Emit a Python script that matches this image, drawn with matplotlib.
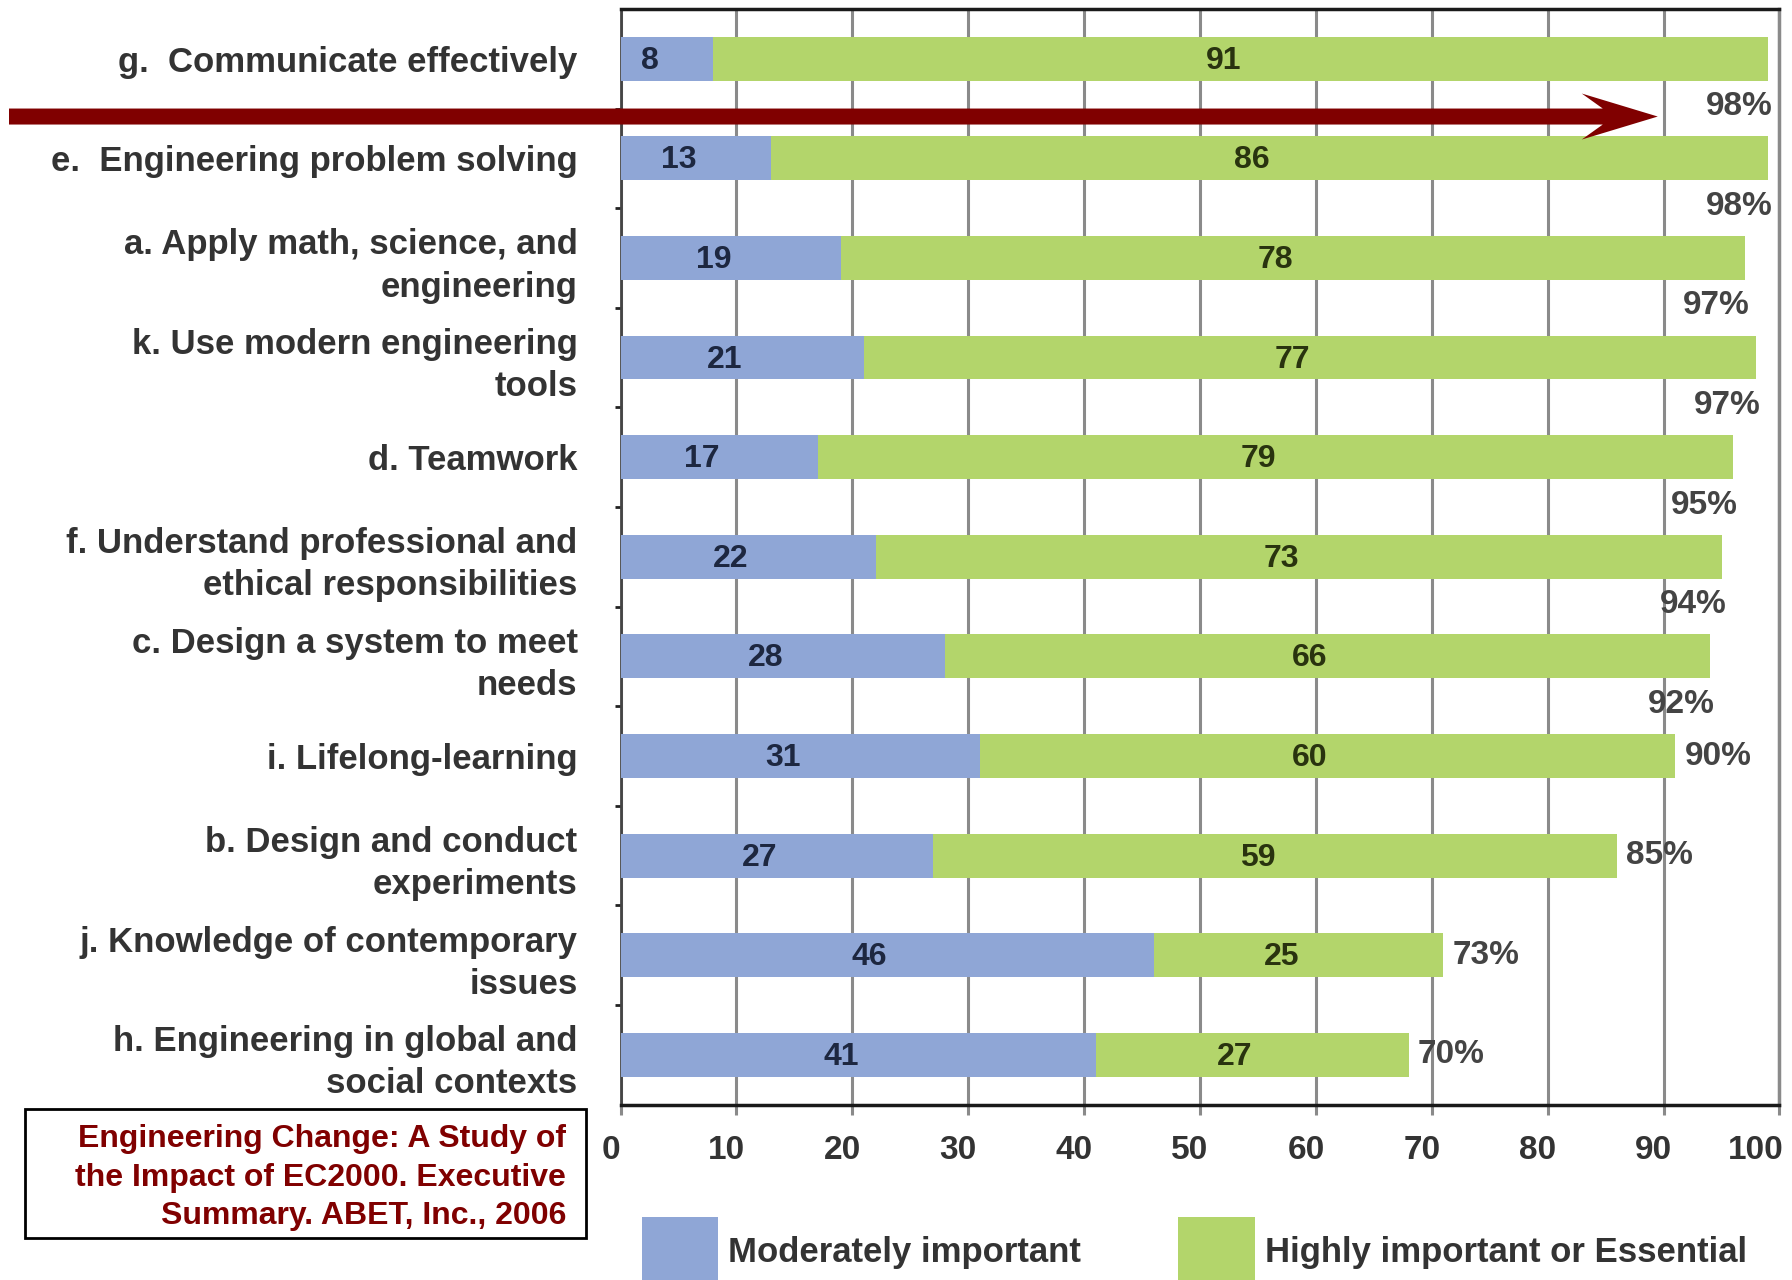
import numpy as np
import matplotlib
matplotlib.use('Agg')
import matplotlib.pyplot as plt
import matplotlib.transforms as mtransforms
from matplotlib.patches import Polygon, Rectangle, Patch

# outcomes, top to bottom
categories = [
    'g.  Communicate effectively',
    'e.  Engineering problem solving',
    'a. Apply math, science, and\nengineering',
    'k. Use modern engineering\ntools',
    'd. Teamwork',
    'f. Understand professional and\nethical responsibilities',
    'c. Design a system to meet\nneeds',
    'i. Lifelong-learning',
    'b. Design and conduct\nexperiments',
    'j. Knowledge of contemporary\nissues',
    'h. Engineering in global and\nsocial contexts',
]
moderately = [8, 13, 19, 21, 17, 22, 28, 31, 27, 46, 41]
highly = [91, 86, 78, 77, 79, 73, 66, 60, 59, 25, 27]
pct_labels = ['98%', '98%', '97%', '97%', '95%', '94%', '92%', '90%', '85%', '73%', '70%']
x_ticks = [0, 10, 20, 30, 40, 50, 60, 70, 80, 90, 100]
legend_labels = ['Moderately important', 'Highly important or Essential']
source_text = ('Engineering Change: A Study of\n'
               'the Impact of EC2000. Executive\n'
               'Summary. ABET, Inc., 2006')

BLUE = '#8fa6d6'
GREEN = '#b3d56b'
DARKRED = '#800000'
TEXT = '#333333'

plt.rcParams['font.family'] = ['Liberation Sans', 'DejaVu Sans']

fig = plt.figure(figsize=(17.92, 12.8), dpi=100)
ax = fig.add_axes([0.3463, 0.137, 0.6467, 0.856])

y = np.arange(len(categories))
mod = np.array(moderately)
hi = np.array(highly)
total = mod + hi

ax.barh(y, mod, height=0.44, color=BLUE, zorder=3)
ax.barh(y, hi, left=mod, height=0.44, color=GREEN, zorder=3)

for i in range(len(categories)):
    ax.text(mod[i] / 2 - 1.5, i + 0.02, str(mod[i]), ha='center', va='center',
            fontsize=23, fontweight='bold', color='#1d2740', zorder=4)
    ax.text(mod[i] + hi[i] / 2 - 1.5, i + 0.02, str(hi[i]), ha='center', va='center',
            fontsize=23, fontweight='bold', color='#29330f', zorder=4)
    # first seven totals sit under the bar end, the rest next to it
    if i < 7:
        ax.text(total[i] + 0.4, i + 0.48, pct_labels[i], ha='right', va='center',
                fontsize=24, fontweight='bold', color='#444444', zorder=4)
    else:
        ax.text(total[i] + 0.8, i, pct_labels[i], ha='left', va='center',
                fontsize=24, fontweight='bold', color='#444444', zorder=4)

ax.set_xlim(0, 100)
ax.set_ylim(len(categories) - 0.5, -0.5)
ax.set_xticks(x_ticks)
ax.set_xticklabels([str(t) for t in x_ticks])
ax.set_yticks(y)
ax.set_yticklabels(categories, linespacing=1.35)
ax.set_yticks(y[:-1] + 0.5, minor=True)

ax.tick_params(axis='x', length=7, width=2.2, color='#8a8a8a', pad=15,
               labelsize=24, labelcolor=TEXT)
xlabs = ax.get_xticklabels()
shift = mtransforms.ScaledTranslation(-10 / 100, 0, fig.dpi_scale_trans)
for lab in xlabs:
    lab.set_fontweight('bold')
    lab.set_transform(lab.get_transform() + shift)
# last label hugs the right edge so it stays inside the picture
xlabs[-1].set_horizontalalignment('right')
xlabs[-1].set_transform(xlabs[-1].get_transform()
                        + mtransforms.ScaledTranslation(14 / 100, 0, fig.dpi_scale_trans))

ax.tick_params(axis='y', which='major', length=0, pad=31,
               labelsize=25, labelcolor=TEXT)
for lab in ax.get_yticklabels():
    lab.set_fontweight('bold')
ax.tick_params(axis='y', which='minor', length=4, width=2, color='#222222')

ax.grid(axis='x', color='#8a8a8a', linewidth=2.2)
ax.set_axisbelow(True)

ax.spines['top'].set_color('#1a1a1a')
ax.spines['top'].set_linewidth(2.5)
ax.spines['bottom'].set_color('#1a1a1a')
ax.spines['bottom'].set_linewidth(2.5)
ax.spines['left'].set_color('#444444')
ax.spines['left'].set_linewidth(2)
ax.spines['right'].set_color('#8a8a8a')
ax.spines['right'].set_linewidth(2.5)

# red arrow pointing at the top outcome
tip_x, cy = ax.transData.transform((89.5, 0.58))
tail_x = 9
shaft = 8
barb_x = tip_x - 76
notch_x = tip_x - 55
arrow_pts = [(tail_x, cy + shaft), (notch_x, cy + shaft), (barb_x, cy + 23),
             (tip_x, cy), (barb_x, cy - 23), (notch_x, cy - shaft),
             (tail_x, cy - shaft)]
fig.patches.append(Polygon(arrow_pts, closed=True, facecolor=DARKRED,
                           edgecolor='none', transform=None, figure=fig,
                           zorder=10))

# source box
fig.patches.append(Rectangle((0.014, 0.0328), 0.313, 0.1008, fill=False,
                             edgecolor='black', linewidth=2,
                             transform=fig.transFigure, figure=fig))
fig.text(0.3158, 0.0800, source_text, ha='right', va='center',
         multialignment='right', color=DARKRED, fontsize=23,
         fontweight='bold', linespacing=1.37)

handles = [Patch(facecolor=BLUE, edgecolor='none'),
           Patch(facecolor=GREEN, edgecolor='none')]
leg = fig.legend(handles, legend_labels, loc='center left',
                 bbox_to_anchor=(0.358, 0.022), ncol=2, frameon=False,
                 prop={'size': 25, 'weight': 'bold'}, handlelength=2.2,
                 handleheight=2.7, handletextpad=0.3, columnspacing=2.8,
                 borderpad=0, borderaxespad=0)
for t in leg.get_texts():
    t.set_color(TEXT)

fig.savefig('out.png', dpi=100)
